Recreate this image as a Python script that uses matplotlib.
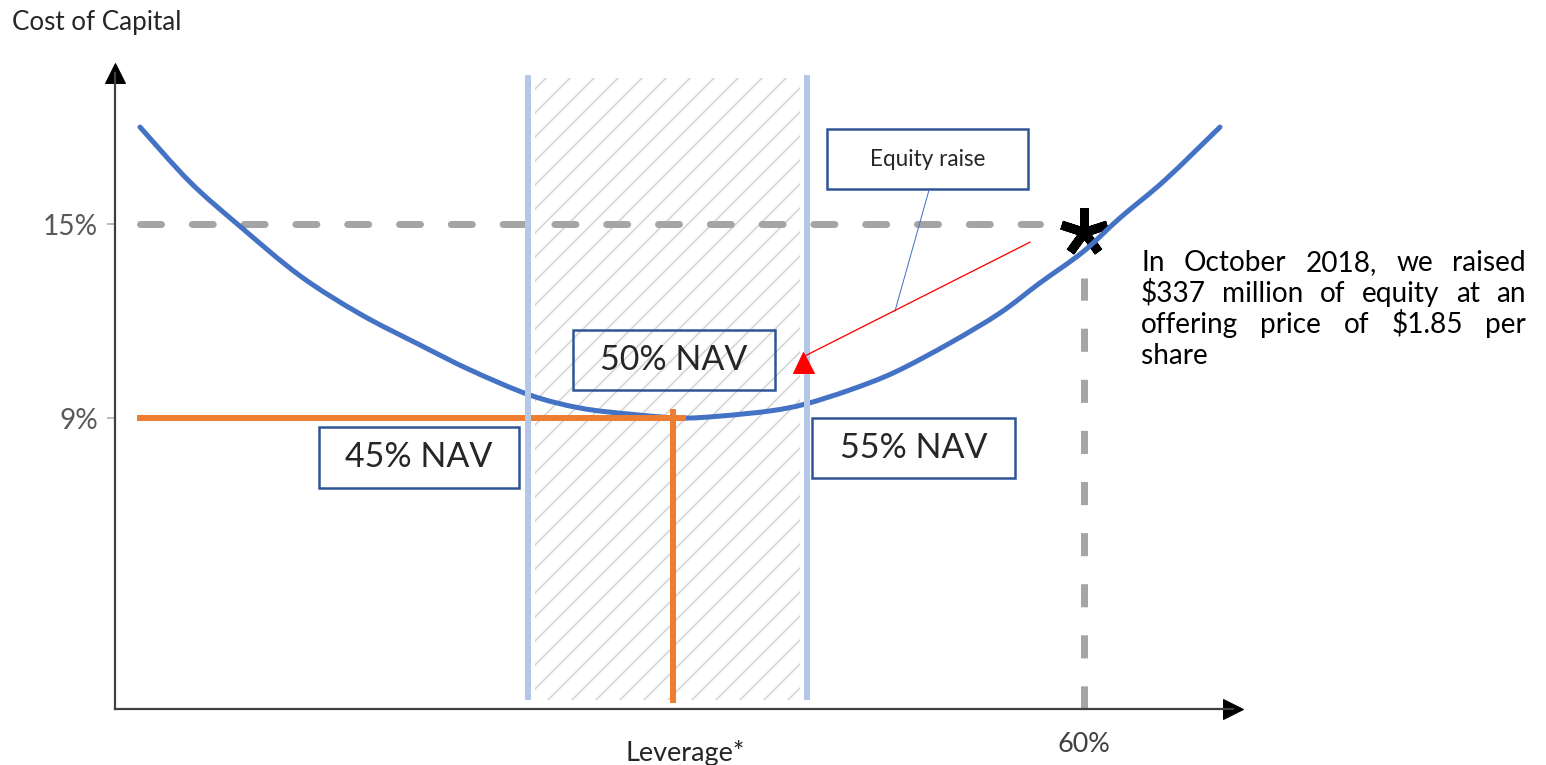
import matplotlib.pyplot as plt
from matplotlib.patches import Rectangle, PathPatch
from matplotlib.path import Path
from matplotlib.markers import MarkerStyle

plt.rcParams['font.family'] = ['Lato', 'DejaVu Sans']
plt.rcParams['hatch.linewidth'] = 1.6

# schematic leverage axis (0 = origin) vs cost of capital in %
curve_x = [2.5, 7.5, 12.5, 18.5, 24.5, 30.5, 35.5, 41.5, 46.5, 51.5, 56.5, 60.5,
           65.5, 69.0, 73.5, 78.0, 83.5, 88.5, 92.5, 96.8, 100.5, 105.0, 110.5]
curve_y = [18.0, 16.3, 14.93, 13.4, 12.22, 11.26, 10.49, 9.71, 9.31, 9.12, 9.0, 9.06,
           9.22, 9.43, 9.87, 10.42, 11.32, 12.25, 13.18, 14.14, 15.19, 16.36, 18.0]

cost_ticks = [9, 15]
cost_labels = ['9%', '15%']
lev_ticks = [96.9]
lev_labels = ['60%']

band_lines = [41.3, 69.2]      # 45% and 55% NAV
band_fill = [42.0, 68.5]
opt_x, opt_y = 55.8, 9         # 50% NAV optimum
hurdle_y = 15
hurdle_x = [2.5, 92.5]
raise_x, raise_y = 96.9, 14.75  # equity raise point

nav_labels = ['45% NAV', '50% NAV', '55% NAV']
note_lines = ['In October 2018, we raised',
              '$337 million of equity at an',
              'offering price of $1.85 per',
              'share']


def smooth_path(xs, ys):
    # Excel-style smoothed line: cubic bezier through the points
    pts = list(zip(xs, ys))
    ext = [pts[0]] + pts + [pts[-1]]
    verts = [pts[0]]
    codes = [Path.MOVETO]
    for i in range(1, len(ext) - 2):
        p0, p1, p2, p3 = ext[i - 1], ext[i], ext[i + 1], ext[i + 2]
        c1 = (p1[0] + (p2[0] - p0[0]) / 6, p1[1] + (p2[1] - p0[1]) / 6)
        c2 = (p2[0] - (p3[0] - p1[0]) / 6, p2[1] - (p3[1] - p1[1]) / 6)
        verts += [c1, c2, p2]
        codes += [Path.CURVE4] * 3
    return Path(verts, codes)


W, H = 1546, 765
fig = plt.figure(figsize=(W / 72, H / 72), dpi=72)
ax = fig.add_axes([115 / W, 1 - 709 / H, (1233 - 115) / W, (709 - 73) / H])
ax.set_xlim(0, 111.8)
ax.set_ylim(0, (709 - 73) / 32.33)

for s in ['top', 'right']:
    ax.spines[s].set_visible(False)
for s in ['left', 'bottom']:
    ax.spines[s].set_color('#404040')
    ax.spines[s].set_linewidth(2.2)
ax.plot(0, 1, '^', ms=20, color='black', transform=ax.transAxes, clip_on=False)
ax.plot(1, 0, '>', ms=20, color='black', transform=ax.transAxes, clip_on=False)

ax.set_yticks(cost_ticks, cost_labels)
ax.tick_params(axis='y', length=8, width=1.5, color='#A6A6A6', pad=9,
               labelsize=28, labelcolor='#595959')
ax.set_xticks(lev_ticks, lev_labels)
ax.tick_params(axis='x', length=0, pad=23, labelsize=27, labelcolor='#404040')

# hatched band between 45% and 55% NAV
top = (709 - 78) / 32.33
bot = (709 - 700) / 32.33
ax.add_patch(Rectangle((band_fill[0], bot), band_fill[1] - band_fill[0], top - bot,
                       fill=False, hatch='/', edgecolor='#D3D3D3', lw=0, zorder=1))
ax.vlines(band_lines, bot, (709 - 75) / 32.33, color='#B4C7E7', lw=6, zorder=6)

# 15% hurdle and 60% leverage dashed guides
ax.plot(hurdle_x, [hurdle_y, hurdle_y], color='#A5A5A5', lw=7,
        ls=(0, (3, 4.4)), dash_capstyle='round', zorder=2)
ax.plot([raise_x, raise_x], [0, (709 - 278) / 32.33], color='#A5A5A5', lw=7,
        ls=(0, (3.3, 4)), dash_capstyle='butt', zorder=2)

ax.plot(raise_x, raise_y, marker=MarkerStyle((5, 2, 0), capstyle='round'),
        ms=48, mew=9, color='black', zorder=3)

ax.add_patch(PathPatch(smooth_path(curve_x, curve_y), fill=False, edgecolor='#4472C4',
                       lw=5, zorder=4, capstyle='round'))

# optimum
ax.plot([curve_x[0], opt_x + 1.0], [opt_y, opt_y], color='#ED7D31', lw=6, zorder=5)
ax.plot([opt_x, opt_x], [opt_y + 0.2, bot], color='#ED7D31', lw=6, zorder=5)

# boxes
boxes = [(20.4, 6.84, 40.4, 8.72), (45.8, 9.87, 66.0, 11.72), (69.7, 7.14, 90.0, 9.0)]
for lab, (x0, y0, x1, y1) in zip(nav_labels, boxes):
    ax.add_patch(Rectangle((x0, y0), x1 - x0, y1 - y0, fill=False,
                           edgecolor='#2F5597', lw=2.5, zorder=7))
    ax.text((x0 + x1) / 2, (y0 + y1) / 2, lab, ha='center', va='center',
            fontsize=34, color='#262626', zorder=8)

x0, y0, x1, y1 = 71.2, 16.08, 91.3, 17.94
ax.add_patch(Rectangle((x0, y0), x1 - x0, y1 - y0, fill=False,
                       edgecolor='#2F5597', lw=2.5, zorder=7))
ax.text((x0 + x1) / 2, (y0 + y1) / 2, 'Equity raise', ha='center', va='center',
        fontsize=22.5, color='#262626', zorder=8)
ax.plot([81.4, 78.0], [16.05, 12.31], color='#4472C4', lw=1, zorder=8)

# red arrow towards the band
ax.plot([91.5, 68.8], [14.44, 10.89], color='red', lw=1.3, zorder=8)
ax.plot(68.8, 10.73, '^', ms=21, color='red', zorder=8)

fig.text(12 / W, 1 - 30 / H, 'Cost of Capital', fontsize=26, color='#262626',
         va='baseline')
fig.text(685 / W, 1 - 761 / H, 'Leverage*', fontsize=27, color='#262626',
         ha='center', va='baseline')

# justified note
renderer = fig.canvas.get_renderer()
left, right = 1141, 1526
for i, line in enumerate(note_lines):
    y = 1 - (271 + i * 31) / H
    words = line.split()
    objs = [fig.text(left / W, y, w, fontsize=28, color='black', va='baseline')
            for w in words]
    if i == len(note_lines) - 1:
        continue
    widths = [o.get_window_extent(renderer).width for o in objs]
    gap = (right - left - sum(widths)) / (len(words) - 1)
    x = left
    for o, w in zip(objs, widths):
        o.set_x(x / W)
        x += w + gap

fig.savefig('out.png', dpi=72)
